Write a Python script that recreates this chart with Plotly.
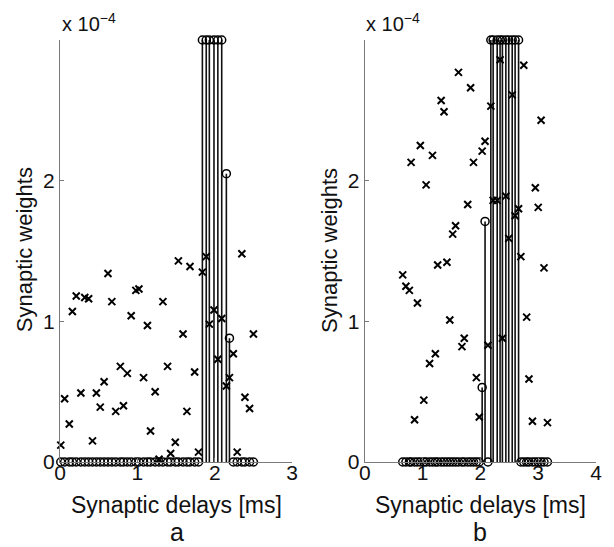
import plotly.graph_objects as go

# ---- Panel a: synapses (delay [ms], initial weight [1e-4], final weight [1e-4]) ----
delays_a = [0.01, 0.06, 0.12, 0.16, 0.21, 0.27, 0.32, 0.37, 0.42, 0.47,
            0.52, 0.57, 0.62, 0.67, 0.72, 0.78, 0.82, 0.87, 0.92, 0.98,
            1.02, 1.08, 1.13, 1.17, 1.23, 1.28, 1.33, 1.39, 1.43, 1.49,
            1.53, 1.59, 1.64, 1.68, 1.74, 1.79, 1.84, 1.89, 1.93, 1.99,
            2.04, 2.09, 2.15, 2.19, 2.24, 2.29, 2.35, 2.39, 2.45, 2.50]
init_a = [0.12, 0.45, 0.27, 1.07, 1.18, 0.49, 1.17, 1.16, 0.15, 0.49,
          0.39, 0.57, 1.34, 1.14, 0.36, 0.68, 0.40, 0.63, 1.04, 1.22,
          1.23, 0.60, 0.97, 0.22, 0.50, 0.02, 1.14, 0.68, 0.06, 0.14,
          1.43, 0.91, 0.36, 1.39, 0.64, 0.07, 1.35, 1.46, 0.98, 1.08,
          0.73, 1.02, 0.54, 0.60, 0.77, 0.07, 1.48, 0.46, 0.38, 0.91]
final_a = [0, 0, 0, 0, 0, 0, 0, 0, 0, 0,
           0, 0, 0, 0, 0, 0, 0, 0, 0, 0,
           0, 0, 0, 0, 0, 0, 0, 0, 0, 0,
           0, 0, 0, 0, 0, 0, 3.0, 3.0, 3.0, 3.0,
           3.0, 3.0, 2.05, 0.88, 0, 0, 0, 0, 0, 0]

# ---- Panel b ----
delays_b = [0.655, 0.71, 0.77, 0.80, 0.86, 0.91, 0.96, 1.02, 1.06, 1.12,
            1.17, 1.22, 1.26, 1.32, 1.37, 1.42, 1.47, 1.52, 1.57, 1.62,
            1.68, 1.72, 1.78, 1.83, 1.88, 1.93, 1.98, 2.03, 2.08, 2.13,
            2.18, 2.22, 2.29, 2.34, 2.38, 2.44, 2.49, 2.55, 2.60, 2.66,
            2.70, 2.75, 2.80, 2.84, 2.90, 2.95, 3.00, 3.05, 3.10, 3.16]
init_b = [1.33, 1.25, 1.22, 2.13, 0.30, 1.13, 2.25, 0.44, 1.97, 0.70,
          2.18, 0.77, 1.40, 2.57, 2.49, 1.42, 1.01, 1.62, 1.68, 2.77,
          0.82, 0.88, 1.83, 2.66, 2.13, 0.60, 0.32, 2.21, 2.28, 0.83,
          2.53, 1.86, 1.86, 2.86, 0.88, 1.89, 1.59, 2.61, 1.75, 1.80,
          1.46, 2.82, 1.03, 0.59, 0.29, 1.95, 1.81, 2.43, 1.38, 0.28]
final_b = [0, 0, 0, 0, 0, 0, 0, 0, 0, 0,
           0, 0, 0, 0, 0, 0, 0, 0, 0, 0,
           0, 0, 0, 0, 0, 0, 0, 0.53, 1.71, 0,
           3.0, 3.0, 3.0, 3.0, 3.0, 3.0, 3.0, 3.0, 3.0, 3.0,
           0, 0, 0, 0, 0, 0, 0, 0, 0, 0]

x_ticks_a = [0, 1, 2, 3]
x_ticks_b = [0, 1, 2, 3, 4]
y_ticks = [0, 1, 2]

FONT = "Liberation Sans, Arial, Helvetica, sans-serif"
TXT = "#111111"
AX = "#7a7a7a"

fig = go.Figure()


def add_panel(delays, init, final, xa, ya):
    sx, sy = [], []
    for d, w in zip(delays, final):
        if w > 0:
            sx += [d, d, None]
            sy += [0, w, None]
    fig.add_trace(go.Scatter(x=sx, y=sy, mode="lines", xaxis=xa, yaxis=ya,
                             line=dict(color="#111111", width=1.6), hoverinfo="skip",
                             showlegend=False))
    fig.add_trace(go.Scatter(x=delays, y=final, mode="markers", xaxis=xa, yaxis=ya,
                             marker=dict(symbol="circle-open", size=8,
                                         color="black", line=dict(width=1.5, color="black")),
                             cliponaxis=False, showlegend=False))
    fig.add_trace(go.Scatter(x=delays, y=init, mode="markers", xaxis=xa, yaxis=ya,
                             marker=dict(symbol="x-thin", size=7,
                                         line=dict(width=2, color="black")),
                             cliponaxis=False, showlegend=False))


add_panel(delays_a, init_a, final_a, "x", "y")
add_panel(delays_b, init_b, final_b, "x2", "y2")

# page is drawn with an 8px body margin: work in page pixels, shift by OFF
OFF = 8
PW, PH = 614, 547
W, H = PW - OFF, PH - OFF
ml, mr, mt, mb = 60 - OFF, 16, 40 - OFF, 85
pw = W - ml - mr
ph = H - mt - mb


def dom(x0, x1):
    return [(x0 - OFF - ml) / pw, (x1 - OFF - ml) / pw]


axis_common = dict(showline=True, linecolor=AX, linewidth=1.2, showgrid=False,
                   zeroline=False, ticks="inside", ticklen=4, tickcolor=AX,
                   tickfont=dict(family=FONT, size=21, color=TXT), mirror=False)

fig.update_layout(
    width=W, height=H, paper_bgcolor="white", plot_bgcolor="white",
    margin=dict(l=ml, r=mr, t=mt, b=mb),
    xaxis=dict(domain=dom(60, 293), range=[0, 3], tickvals=x_ticks_a, anchor="y",
               ticklabelstandoff=-8, **axis_common),
    yaxis=dict(domain=[0, 1], range=[0, 3], tickvals=y_ticks, anchor="x",
               ticklabelstandoff=0, **axis_common),
    xaxis2=dict(domain=dom(366, 598), range=[0, 4], tickvals=x_ticks_b, anchor="y2",
                ticklabelstandoff=-8, **axis_common),
    yaxis2=dict(domain=[0, 1], range=[0, 3], tickvals=y_ticks, anchor="x2",
                ticklabelstandoff=0, **axis_common),
)


def P(px, py):
    """page pixel -> paper coords"""
    return (px - OFF - ml) / pw, 1 - (py - OFF - mt) / ph


ann = []
for cx, lab, ycx in [(177, "a", 25), (482, "b", 331)]:
    x, y = P(cx, 505)
    ann.append(dict(text="Synaptic delays [ms]", x=x, y=y, xanchor="center",
                    yanchor="middle", font=dict(family=FONT, size=23, color=TXT)))
    x, y = P(cx, 532)
    ann.append(dict(text=lab, x=x, y=y, xanchor="center", yanchor="middle",
                    font=dict(family=FONT, size=25, color=TXT)))
    x, y = P(ycx, 250)
    ann.append(dict(text="Synaptic weights", x=x, y=y, textangle=-90, xanchor="center",
                    yanchor="middle", font=dict(family=FONT, size=22, color=TXT)))
for x0 in [60, 365]:
    x, y = P(x0, 37)
    ann.append(dict(text="x 10<sup>\u22124</sup>", x=x, y=y, xanchor="left",
                    yanchor="bottom", font=dict(family=FONT, size=20, color=TXT)))
for a in ann:
    a.update(xref="paper", yref="paper", showarrow=False)
fig.update_layout(annotations=ann)

fig.write_html("out.html", config={"displayModeBar": False})
